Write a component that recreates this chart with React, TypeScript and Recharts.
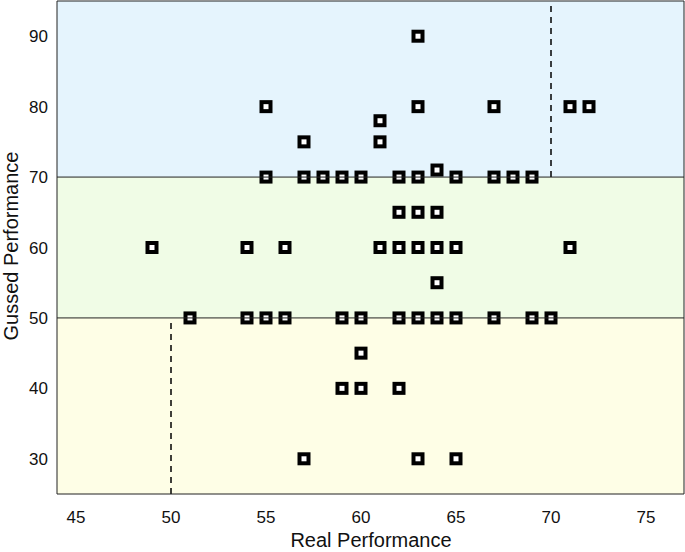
import React from 'react';
import {
  ScatterChart,
  Scatter,
  XAxis,
  YAxis,
  ReferenceArea,
  ReferenceLine,
} from 'recharts';

// real vs guessed scores, one entry per student
const realScores = [
  63,
  55, 63, 67, 71, 72,
  61,
  57, 61,
  64,
  55, 57, 58, 59, 60, 62, 63, 65, 67, 68, 69,
  62, 63, 64,
  49, 54, 56, 61, 62, 63, 64, 65, 71,
  64,
  51, 54, 55, 56, 59, 60, 62, 63, 64, 65, 67, 69, 70,
  60,
  59, 60, 62,
  57, 63, 65,
];
const guessedScores = [
  90,
  80, 80, 80, 80, 80,
  78,
  75, 75,
  71,
  70, 70, 70, 70, 70, 70, 70, 70, 70, 70, 70,
  65, 65, 65,
  60, 60, 60, 60, 60, 60, 60, 60, 60,
  55,
  50, 50, 50, 50, 50, 50, 50, 50, 50, 50, 50, 50, 50,
  45,
  40, 40, 40,
  30, 30, 30,
];
const xTicks = [45, 50, 55, 60, 65, 70, 75];
const yTicks = [30, 40, 50, 60, 70, 80, 90];

const points = realScores.map((x, i) => ({ x, y: guessedScores[i] }));

const font = '"Liberation Sans", Arial, sans-serif';

const SquareMark = (props: any) => {
  const { cx, cy } = props;
  return (
    <rect
      x={cx - 4.5}
      y={cy - 4.5}
      width={9}
      height={9}
      fill='#fff'
      stroke='#000'
      strokeWidth={4}
    />
  );
};

export default function App() {
  return (
    <div style={{ width: 685, height: 552, background: '#fff' }}>
      <style>{'body{margin:0}'}</style>
      <ScatterChart
        width={685}
        height={552}
        margin={{ top: 1, right: 1, bottom: 0, left: 0 }}
      >
        <XAxis
          type='number'
          dataKey='x'
          domain={[44, 77]}
          ticks={xTicks}
          axisLine={false}
          tickLine={false}
          height={58}
          tickMargin={11}
          tick={{ fill: '#111', fontSize: 17, fontFamily: font }}
          label={{
            content: () => (
              <text
                x={371}
                y={547}
                textAnchor='middle'
                fill='#111'
                fontSize={20}
                fontFamily={font}
              >
                Real Performance
              </text>
            ),
          }}
        />
        <YAxis
          type='number'
          dataKey='y'
          domain={[25, 95]}
          ticks={yTicks}
          axisLine={false}
          tickLine={false}
          width={57}
          tickMargin={3}
          tick={{ fill: '#111', fontSize: 17, fontFamily: font }}
          label={{
            content: () => (
              <text
                x={11}
                y={246}
                transform='rotate(-90 11 246)'
                textAnchor='middle'
                dominantBaseline='central'
                fill='#111'
                fontSize={20}
                fontFamily={font}
              >
                Gussed Performance
              </text>
            ),
          }}
        />
        <ReferenceArea x1={44} x2={77} y1={70} y2={95} fill='#e5f4fd' fillOpacity={1} stroke='none' />
        <ReferenceArea x1={44} x2={77} y1={50} y2={70} fill='#f0fce6' fillOpacity={1} stroke='none' />
        <ReferenceArea x1={44} x2={77} y1={25} y2={50} fill='#fefee6' fillOpacity={1} stroke='none' />
        <ReferenceLine
          segment={[{ x: 70, y: 70 }, { x: 70, y: 95 }]}
          stroke='#000'
          strokeWidth={1.5}
          strokeDasharray='6 5'
        />
        <ReferenceLine
          segment={[{ x: 50, y: 25 }, { x: 50, y: 50 }]}
          stroke='#000'
          strokeWidth={1.5}
          strokeDasharray='6 5'
        />
        <Scatter data={points} shape={SquareMark} isAnimationActive={false} />
        <ReferenceLine y={70} stroke='#222' strokeWidth={1} zIndex={1000} />
        <ReferenceLine y={50} stroke='#222' strokeWidth={1} zIndex={1000} />
        <ReferenceArea
          x1={44}
          x2={77}
          y1={25}
          y2={95}
          fill='none'
          stroke='#222'
          strokeWidth={1}
          zIndex={1000}
        />
      </ScatterChart>
    </div>
  );
}
